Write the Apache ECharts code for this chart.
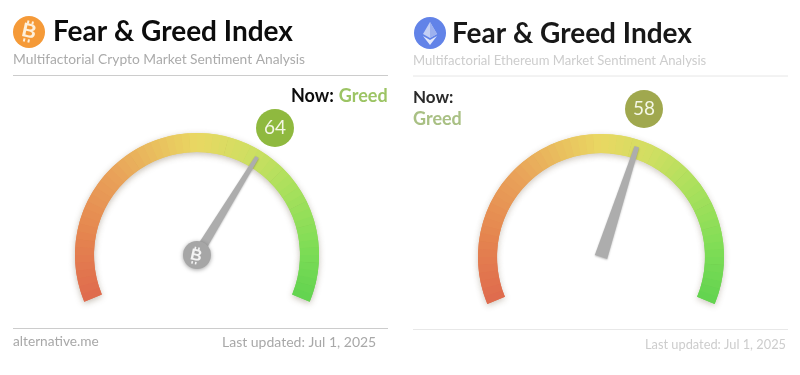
<!DOCTYPE html>
<html>
<head>
<meta charset="utf-8">
<title>Fear & Greed Index</title>
<script src="https://cdn.jsdelivr.net/npm/echarts@6/dist/echarts.min.js"></script>
<style>
html,body{margin:0;padding:0;background:#fff;}
#main{width:800px;height:375px;}
</style>
</head>
<body>
<div id="main"></div>
<script>
var gaugeNames = ['Crypto', 'Ethereum'];
var gaugeValues = [64, 58];
var gaugeMin = 0;
var gaugeMax = 100;
var nowLabels = ['Greed', 'Greed'];
var subtitles = ['Multifactorial Crypto Market Sentiment Analysis', 'Multifactorial Ethereum Market Sentiment Analysis'];
var updated = 'Last updated: Jul 1, 2025';

// colour along the arc, [position, colour]
var arcStops = [[0,'#df6a4e'],[0.15,'#e5864f'],[0.3,'#e9a35a'],[0.5,'#e9d862'],[0.62,'#cfdf62'],[0.75,'#a6e05c'],[0.88,'#7fdd56'],[1,'#62d350']];

function arcColor(p){
	for(var i = 1;i<arcStops.length;i++){
		if(p<=arcStops[i][0]){
			var a = arcStops[i-1], b = arcStops[i];
			return echarts.color.lerp((p-a[0])/(b[0]-a[0]),[a[1],b[1]]);
		}
	}
	return arcStops[arcStops.length-1][1];
}
function arcPieces(n){
	var out = [];
	for(var i = 1;i<=n;i++){
		out.push([i/n,arcColor((i-0.5)/n)]);
	}
	return out;
}
function backGauge(center,radius,n,shadow){
	return {
		type:'gauge', center:center, radius:radius, startAngle:202.5, endAngle:-22.5,
		min:gaugeMin, max:gaugeMax, silent:true, z:1,
		axisLine:{lineStyle:{width:19,color:arcPieces(n),shadowColor:shadow,shadowBlur:6,shadowOffsetY:2}},
		axisTick:{show:false}, splitLine:{show:false}, axisLabel:{show:false},
		pointer:{show:false}, anchor:{show:false}, title:{show:false}, detail:{show:false},
		data:[]
	};
}
function mainGauge(idx,center,radius,badge,badgeColor,hub,needleWidth,needlePath){
	return {
		type:'gauge', name:gaugeNames[idx], center:center, radius:radius, startAngle:202.5, endAngle:-22.5,
		min:gaugeMin, max:gaugeMax, silent:true, z:3,
		axisLine:{lineStyle:{width:19,color:arcPieces(60)}},
		axisTick:{show:false}, splitLine:{show:false}, axisLabel:{show:false},
		pointer:{icon:needlePath,length:radius-7,width:needleWidth,offsetCenter:[0,0],
			itemStyle:{color:'#adadad',shadowColor:'rgba(0,0,0,0.25)',shadowBlur:2,shadowOffsetY:1}},
		anchor:{show:hub,showAbove:true,size:28,icon:'circle',itemStyle:{color:'#a6a6a6',borderWidth:0,shadowColor:'rgba(0,0,0,0.35)',shadowBlur:4,shadowOffsetY:1}},
		title:{show:false},
		detail:{show:true,valueAnimation:false,offsetCenter:badge,width:38,height:38,lineHeight:40,padding:0,borderRadius:19,
			backgroundColor:badgeColor,color:'#f4f7e6',fontFamily:'Lato',fontSize:19,fontWeight:'normal',formatter:'{value}'},
		data:[{value:gaugeValues[idx],name:gaugeNames[idx]}]
	};
}
// bitcoin sign: a tilted bold B with the two pairs of small bars
function btcMark(cx,cy,size,fill){
	var w = size*0.1;
	return {
		type:'group',x:cx,y:cy,rotation:-0.22,
		children:[
			{type:'text',z:100,style:{text:'B',fontFamily:'Liberation Sans',fontSize:size,fontWeight:'bold',fill:fill,align:'center',verticalAlign:'middle'}},
			{type:'rect',z:100,shape:{x:-size*0.2,y:-size*0.56,width:w,height:size*0.16},style:{fill:fill}},
			{type:'rect',z:100,shape:{x:size*0.03,y:-size*0.56,width:w,height:size*0.16},style:{fill:fill}},
			{type:'rect',z:100,shape:{x:-size*0.2,y:size*0.36,width:w,height:size*0.16},style:{fill:fill}},
			{type:'rect',z:100,shape:{x:size*0.03,y:size*0.36,width:w,height:size*0.16},style:{fill:fill}}
		]
	};
}

var myChart = echarts.init(document.getElementById('main'),null,{renderer:'canvas'});
var option = {
	animation:false,
	backgroundColor:'#fff',
	title:[
		{text:'Fear & Greed Index',left:53,top:18,padding:0,textStyle:{fontFamily:'Lato',fontSize:28,fontWeight:'bold',color:'#0c0c0c'}},
		{text:'Fear & Greed Index',left:452,top:20,padding:0,textStyle:{fontFamily:'Lato',fontSize:28,fontWeight:'bold',color:'#181818'}},
		{text:subtitles[0],left:13,top:53,padding:0,textStyle:{fontFamily:'Lato',fontSize:13.8,fontWeight:'normal',color:'#ababab'}},
		{text:subtitles[1],left:413,top:54,padding:0,textStyle:{fontFamily:'Lato',fontSize:13.1,fontWeight:'normal',color:'#cdcdcd'}},
		{text:'{a|Now:} {b|'+nowLabels[0]+'}',left:291,top:87,padding:0,textStyle:{rich:{a:{fontFamily:'Lato',fontSize:18,fontWeight:'bold',color:'#0c0c0c'},b:{fontFamily:'Lato',fontSize:18,fontWeight:'bold',color:'#9cc464'}}}},
		{text:'Now:',left:413,top:89,padding:0,textStyle:{fontFamily:'Lato',fontSize:17,fontWeight:'bold',color:'#2a2a2a'}},
		{text:nowLabels[1],left:413,top:110,padding:0,textStyle:{fontFamily:'Lato',fontSize:18,fontWeight:'bold',color:'#a9c084'}},
		{text:'alternative.me',left:13,top:335,padding:0,textStyle:{fontFamily:'Lato',fontSize:13.7,fontWeight:'normal',color:'#a8a8a8'}},
		{text:updated,left:222,top:335,padding:0,textStyle:{fontFamily:'Lato',fontSize:14,fontWeight:'normal',color:'#a8a8a8'}},
		{text:updated,left:645,top:338,padding:0,textStyle:{fontFamily:'Lato',fontSize:12.8,fontWeight:'normal',color:'#cdcdcd'}}
	],
	graphic:[
		{type:'line',shape:{x1:13,y1:75.5,x2:388,y2:75.5},style:{stroke:'#cccccc',lineWidth:1}},
		{type:'line',shape:{x1:13,y1:328.5,x2:388,y2:328.5},style:{stroke:'#cccccc',lineWidth:1}},
		{type:'line',shape:{x1:413,y1:76,x2:788,y2:76},style:{stroke:'#e6e6e6',lineWidth:1}},
		{type:'line',shape:{x1:413,y1:329.5,x2:788,y2:329.5},style:{stroke:'#e8e8e8',lineWidth:1}},
		// bitcoin logo
		{type:'circle',shape:{cx:29,cy:32,r:16},style:{fill:'#f59a38'}},
		btcMark(29,32,20,'#fdf0dc'),
		// ethereum logo
		{type:'circle',shape:{cx:430,cy:33,r:16},style:{fill:'#6283e8'}},
		{type:'polygon',z:5,shape:{points:[[430,22],[437,34],[430,38],[423,34]]},style:{fill:'#c3cff5'}},
		{type:'polygon',z:5,shape:{points:[[423,36],[430,40],[437,36],[430,45]]},style:{fill:'#e3e9fb'}},
		{type:'polygon',z:6,shape:{points:[[430,22],[437,34],[430,38]]},style:{fill:'#9db1ef'}},
		// hub mark on the left gauge
		btcMark(196,256,16,'#f4f4f4')
	],
	series:[
		backGauge([197,255],122,23,'rgba(90,70,40,0.35)'),
		mainGauge(0,[197,255],122,[78,-127],'#8fb93f',true,10,'path://M3,0 L7,0 L10,100 L0,100 Z'),
		backGauge([601,257],123,23,'rgba(90,70,40,0.3)'),
		mainGauge(1,[601,257],123,[43,-148],'#a0a84e',false,13,'path://M3.2,0 L6.8,0 L10,100 L0,100 Z')
	]
};
myChart.setOption(option);
</script>
</body>
</html>
